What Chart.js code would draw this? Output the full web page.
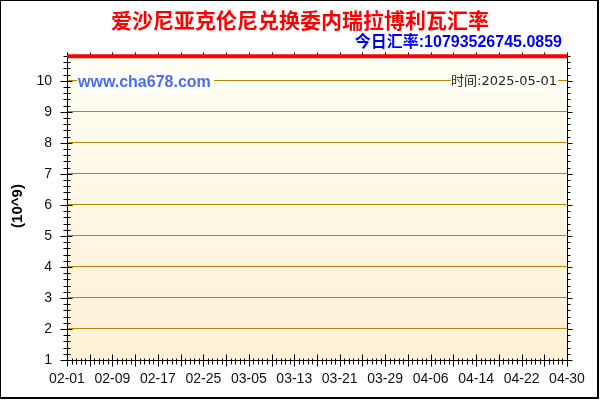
<!DOCTYPE html>
<html>
<head>
<meta charset="utf-8">
<script src="https://cdn.jsdelivr.net/npm/chart.js@4.4.1/dist/chart.umd.min.js"></script>
<style>
  html, body { margin: 0; padding: 0; background: #fff; }
  canvas { display: block; }
</style>
</head>
<body>
<canvas id="chart" width="600" height="400"></canvas>
<script>
// texts
const titleText = '爱沙尼亚克伦尼兑换委内瑞拉博利瓦汇率';
const rateText = '今日汇率:10793526745.0859';
const siteText = 'www.cha678.com';
const dateText = '时间:2025-05-01';
const unitText = '(10^9)';

// x axis: days counted from 02-01
const xLabels = ['02-01', '02-09', '02-17', '02-25', '03-05', '03-13', '03-21', '03-29', '04-06', '04-14', '04-22', '04-30'];
const xLabelDays = [0, 8, 16, 24, 32, 40, 48, 56, 64, 72, 80, 88];

// y axis ticks (unit 10^9)
const yTicks = [1, 2, 3, 4, 5, 6, 7, 8, 9, 10];

// rate series (10^9)
const pointDays = [0, 4, 8, 12, 16, 20, 24, 28, 32, 36, 40, 44, 48, 52, 56, 60, 64, 68, 72, 76, 80, 84, 88];
const rateValues = [10.79, 10.79, 10.79, 10.79, 10.79, 10.79, 10.79, 10.79, 10.79, 10.79, 10.79, 10.79,
                    10.79, 10.79, 10.79, 10.79, 10.79, 10.79, 10.79, 10.79, 10.79, 10.79, 10.7935];

const axisFont = { family: "'Liberation Sans', Arial, sans-serif", size: 14 };

// background and frame, drawn before the line so the line sits on top
const backdrop = {
    id: 'backdrop',
    beforeDraw(chart) {
        const { ctx, chartArea: a } = chart;
        ctx.save();
        ctx.fillStyle = '#fff';
        ctx.fillRect(0, 0, chart.width, chart.height);
        const g = ctx.createLinearGradient(0, a.top, 0, a.bottom);
        g.addColorStop(0, '#fffff4');
        g.addColorStop(1, '#fdf0d6');
        ctx.fillStyle = g;
        ctx.fillRect(a.left, a.top, a.right - a.left, a.bottom - a.top);
        ctx.restore();
    },
    beforeDatasetsDraw(chart) {
        const { ctx, chartArea: a, scales } = chart;
        const L = Math.round(a.left) + 0.5, R = Math.round(a.right) + 0.5;
        const T = Math.round(a.top) + 0.5, B = Math.round(a.bottom) + 0.5;
        ctx.save();
        ctx.strokeStyle = '#000';
        ctx.lineWidth = 1;
        ctx.strokeRect(L, T, R - L, B - T);
        ctx.beginPath();
        // y ticks, 5 subdivisions per unit
        for (let i = 0; 1 + i * 0.2 <= scales.y.max + 1e-6; i++) {
            const y = Math.round(scales.y.getPixelForValue(1 + i * 0.2)) + 0.5;
            const major = i % 5 === 0;
            ctx.moveTo(L - (major ? 7 : 4), y); ctx.lineTo(L + (major ? 5 : 3), y);
            ctx.moveTo(R, y); ctx.lineTo(R + (major ? 5 : 3), y);
        }
        // x ticks: major every 4 days, 5 subdivisions each
        for (let i = 0; i <= 110; i++) {
            const x = Math.round(scales.x.getPixelForValue(i * 0.8)) + 0.5;
            const major = i % 5 === 0;
            ctx.moveTo(x, B - (major ? 6 : 2)); ctx.lineTo(x, B + (major ? 6 : 4));
            if (major) { ctx.moveTo(x, T - 4); ctx.lineTo(x, T); }
        }
        ctx.stroke();
        ctx.restore();
    },
    afterDraw(chart) {
        const { ctx } = chart;
        ctx.save();
        // title
        ctx.textBaseline = 'middle';
        ctx.textAlign = 'center';
        ctx.fillStyle = '#ff0000';
        ctx.font = "bold 21px 'Noto Sans CJK SC', sans-serif";
        ctx.fillText(titleText, 300, 20);
        // today's rate
        ctx.textAlign = 'right';
        ctx.fillStyle = '#0000ff';
        ctx.font = "bold 16px 'Liberation Sans', 'Noto Sans CJK SC', sans-serif";
        ctx.fillText(rateText, 562, 43);
        // site watermark
        ctx.fillStyle = '#fff';
        ctx.fillRect(77, 72, 137, 21);
        ctx.textAlign = 'left';
        ctx.fillStyle = '#4a6cf0';
        ctx.font = "bold 16px 'Liberation Sans', Arial, sans-serif";
        ctx.fillText(siteText, 78, 83);
        // date
        ctx.fillStyle = '#fffff6';
        ctx.fillRect(451, 74, 107, 15);
        ctx.textAlign = 'right';
        ctx.fillStyle = '#222';
        ctx.font = "13px 'DejaVu Sans', 'Noto Sans CJK SC', sans-serif";
        ctx.fillText(dateText, 557, 82);
        // unit label
        ctx.translate(18, 206);
        ctx.rotate(-Math.PI / 2);
        ctx.textAlign = 'center';
        ctx.fillStyle = '#000';
        ctx.font = "bold 15px 'Liberation Sans', Arial, sans-serif";
        ctx.fillText(unitText, 0, 0);
        ctx.setTransform(1, 0, 0, 1, 0, 0);
        // outer border
        ctx.strokeStyle = '#000';
        ctx.lineWidth = 2;
        ctx.strokeRect(0, 0, 598, 398);
        ctx.restore();
    }
};

new Chart(document.getElementById('chart'), {
    type: 'line',
    data: {
        datasets: [{
            data: pointDays.map((d, i) => ({ x: d, y: rateValues[i] })),
            borderColor: '#ff0000',
            borderWidth: 4,
            pointRadius: 0,
            tension: 0,
            clip: false,
        }],
    },
    options: {
        responsive: false,
        animation: false,
        devicePixelRatio: 1,
        layout: { padding: { top: 56, right: 33, left: 0, bottom: 0 } },
        plugins: { legend: { display: false }, tooltip: { enabled: false } },
        scales: {
            x: {
                type: 'linear',
                min: 0,
                max: 88,
                afterBuildTicks: (s) => { s.ticks = xLabelDays.map(v => ({ value: v })); },
                afterFit: (s) => { s.height = 40; },
                grid: { display: false, drawTicks: false },
                border: { display: false },
                ticks: {
                    autoSkip: false,
                    maxRotation: 0,
                    padding: 11,
                    color: '#111',
                    font: axisFont,
                    callback: (v) => xLabels[xLabelDays.indexOf(v)],
                },
            },
            y: {
                min: 1,
                max: 10.8,
                afterBuildTicks: (s) => { s.ticks = yTicks.map(v => ({ value: v })); },
                afterFit: (s) => { s.width = 67; },
                grid: { color: '#b8860b', lineWidth: 1, drawTicks: false },
                border: { display: false },
                ticks: { padding: 15, color: '#111', font: axisFont },
            },
        },
    },
    plugins: [backdrop],
});
</script>
</body>
</html>
